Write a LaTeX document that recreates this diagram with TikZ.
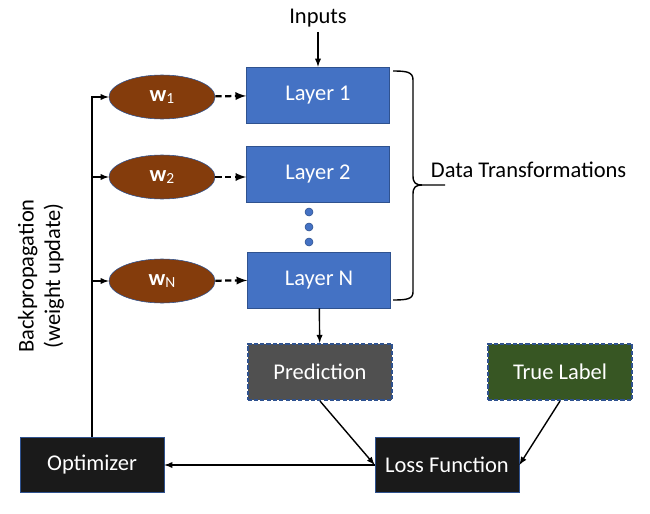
\documentclass[tikz,border=0pt]{standalone}
\usepackage{fontspec}
\setmainfont{Carlito}
\usepackage{xcolor}
\usepackage{tikz}
\usetikzlibrary{arrows,shapes,positioning}

\definecolor{layerblue}{HTML}{4472C4}
\definecolor{edgeblue}{HTML}{2F528F}
\definecolor{weightbrown}{HTML}{843C0C}
\definecolor{predgray}{HTML}{505050}
\definecolor{labelgreen}{HTML}{375623}
\definecolor{blockblack}{HTML}{1A1A1A}

\newcommand{\wsub}[1]{\textbf{w}\raisebox{-0.2ex}{\fontsize{11}{12}\selectfont #1}}

\begin{document}
\begin{tikzpicture}[x=0.025cm,y=-0.025cm,font=\fontsize{16}{19}\selectfont]
      \tikzstyle{layer}=[draw=edgeblue,fill=layerblue,text=white,minimum width=3.575cm,minimum height=1.4cm]
      \tikzstyle{weight}=[ellipse,draw=edgeblue,fill=weightbrown,text=white,minimum width=2.65cm,minimum height=1.1cm]
      \tikzstyle{block}=[draw=edgeblue,fill=blockblack,text=white,minimum width=3.6cm,minimum height=1.38cm]
      \tikzstyle{outbox}=[draw=edgeblue,line width=1.5pt,dash pattern=on 3pt off 1.5pt,text=white,minimum width=3.62cm,minimum height=1.4cm]
      \tikzstyle{dot}=[circle,fill=layerblue,draw=edgeblue,inner sep=0pt,minimum size=0.2cm]
      \tikzstyle{conn}=[->,>=latex,line width=1pt]
      \tikzstyle{feed}=[conn,dash pattern=on 4.5pt off 2.5pt,line width=1.6pt]

      \useasboundingbox (0,0) rectangle (650,513);

      % layers
      \node [layer] (L1) at (318,95) {Layer 1};
      \node [layer] (L2) at (318,174) {Layer 2};
      \node [layer] (LN) at (319,280) {Layer N};
      \node [dot] (d1) at (309,212) {};
      \node [dot] (d2) at (309,227) {};
      \node [dot] (d3) at (309,242) {};

      % weights
      \node [weight] (w1) at (162,97) {\wsub{1}};
      \node [weight] (w2) at (162,177) {\wsub{2}};
      \node [weight] (wN) at (162,281) {\wsub{N}};

      \node (inputs) at (318,18) {Inputs};
      \draw [conn] (inputs) -- (L1);

      \draw [feed] (w1) -- (L1);
      \draw [feed] (w2.east) -- (L2.west |- w2.east);
      \draw [feed] (wN) -- (LN);

      % outputs
      \node [outbox,fill=predgray] (pred) at (320,372) {Prediction};
      \node [outbox,fill=labelgreen] (truth) at (560,372) {True Label};
      \node [block] (loss) at (447,465) {Loss Function};
      \node [block] (opt) at (92,465) {Optimizer};

      \draw [conn] (LN) -- (pred);
      \draw [conn] (pred.south) -- (loss.west);
      \draw [conn] (truth.south) -- (loss.east);
      \draw [conn] (loss.west) -- (opt.east);

      % backpropagation
      \draw [conn] (opt.north) |- (w1.west);
      \draw [conn] (opt.north |- w2.west) -- (w2.west);
      \draw [conn] (opt.north |- wN.west) -- (wN.west);
      \node [rotate=90,align=center] (bp) at (41,276) {Backpropagation\\(weight update)};

      % brace
      \draw [line width=1pt] (393,71) .. controls (407,71) and (413,72) .. (413,80) -- (413,176)
            .. controls (413,183) and (416,185) .. (422,185) -- (445,185);
      \draw [line width=1pt] (422,185) .. controls (416,185) and (413,187) .. (413,194) -- (413,292)
            .. controls (413,299) and (407,300) .. (393,300);
      \node [anchor=west] (dt) at (426,170) {Data Transformations};

    \end{tikzpicture}
\end{document}
